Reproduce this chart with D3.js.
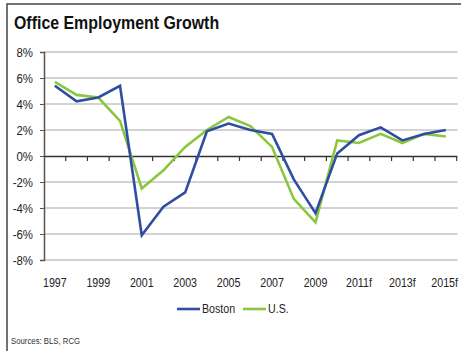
<!DOCTYPE html>
<html>
<head>
<meta charset="utf-8">
<script src="https://cdn.jsdelivr.net/npm/d3@7"></script>
<style>
  html, body { margin: 0; padding: 0; background: #fff; }
  svg { display: block; }
  text { font-family: "Liberation Sans", Arial, sans-serif; fill: #222; }
</style>
</head>
<body>
<svg id="chart" width="461" height="351"></svg>
<script>
// Years on the category axis ("f" = forecast)
const years = ["1997","1998","1999","2000","2001","2002","2003","2004","2005","2006",
               "2007","2008","2009","2010","2011f","2012f","2013f","2014f","2015f"];
// Annual office employment growth, percent
const boston = [5.4, 4.2, 4.5, 5.4, -6.1, -3.9, -2.8, 1.9, 2.5, 2.0,
                1.7, -1.8, -4.4, 0.2, 1.6, 2.2, 1.2, 1.7, 2.0];
const us     = [5.7, 4.7, 4.5, 2.7, -2.5, -1.1, 0.7, 2.0, 3.0, 2.3,
                0.7, -3.3, -5.1, 1.2, 1.0, 1.7, 1.0, 1.7, 1.5];
const yTicks = [8, 6, 4, 2, 0, -2, -4, -6, -8];
const xLabelYears = ["1997","1999","2001","2003","2005","2007","2009","2011f","2013f","2015f"];

const svg = d3.select("#chart");
const W = 461;
const plotLeft = 44, plotRight = 456.7, plotTop = 52, plotBottom = 260;

const x = d3.scaleBand().domain(years).range([plotLeft, plotRight]).paddingInner(0).paddingOuter(0);
const y = d3.scaleLinear().domain([-8, 8]).range([plotBottom, plotTop]);

// Frame
svg.append("path")
  .attr("d", `M7,351 V4 H${W}`)
  .attr("fill", "none").attr("stroke", "#444").attr("stroke-width", 1.5);

// Title
svg.append("text").attr("x", 14).attr("y", 29)
  .attr("font-size", 17.5).attr("font-weight", "bold")
  .attr("class", "narrow").attr("data-squeeze", 0.91)
  .style("fill", "#111")
  .text("Office Employment Growth");

// Gridlines
svg.append("g").selectAll("line").data(yTicks.filter(d => d !== 0)).join("line")
  .attr("x1", plotLeft).attr("x2", plotRight + 1)
  .attr("y1", d => y(d)).attr("y2", d => y(d))
  .attr("stroke", "#a6a6a6").attr("stroke-width", 1);

// Y axis
const yAxis = svg.append("g").attr("transform", `translate(${plotLeft},0)`)
  .call(d3.axisLeft(y).tickValues(yTicks).tickSize(4).tickPadding(7).tickFormat(d => d + "%"));
yAxis.select(".domain").attr("stroke", "#555").attr("stroke-width", 1.5);
yAxis.selectAll(".tick line").attr("stroke", "#555");
yAxis.selectAll(".tick text").attr("font-size", 13).attr("font-family", null)
  .attr("class", "narrow").attr("data-squeeze", 0.88).style("fill", "#222");

// Zero line with category ticks
const xAxis = svg.append("g").attr("transform", `translate(0,${y(0)})`)
  .call(d3.axisBottom(x).tickSize(0).tickFormat(""));
xAxis.select(".domain").attr("stroke", "#333").attr("stroke-width", 1.5);
xAxis.selectAll(".tick").remove();
svg.append("g").selectAll("line").data(years).join("line")
  .attr("x1", d => x(d) + x.bandwidth())
  .attr("x2", d => x(d) + x.bandwidth())
  .attr("y1", y(0)).attr("y2", y(0) + 5)
  .attr("stroke", "#333").attr("stroke-width", 1.2);

// Category labels under the plot
const xLabels = svg.append("g").selectAll("text").data(xLabelYears).join("text")
  .attr("x", d => x(d) + x.bandwidth() / 2)
  .attr("y", 287)
  .attr("text-anchor", "middle")
  .attr("font-size", 13)
  .attr("class", "narrow")
  .text(d => d);

// Keep the last category label inside the right edge (narrow width = 0.82 of natural)
xLabels.filter((d, i, n) => i === n.length - 1).each(function () {
  const half = this.getComputedTextLength() * 0.82 / 2;
  const cx = +this.getAttribute("x");
  if (cx + half > W - 3) d3.select(this).attr("x", W - 3 - half);
});

// Series lines
const line = d3.line()
  .x((d, i) => x(years[i]) + x.bandwidth() / 2)
  .y(d => y(d));

svg.append("path").datum(us)
  .attr("d", line).attr("fill", "none")
  .attr("stroke", "#8cc63e").attr("stroke-width", 2.6).attr("stroke-linejoin", "miter");
svg.append("path").datum(boston)
  .attr("d", line).attr("fill", "none")
  .attr("stroke", "#2f4ea1").attr("stroke-width", 2.6).attr("stroke-linejoin", "miter");

// Legend
const legend = [
  { name: "Boston", color: "#2f4ea1", x0: 177 },
  { name: "U.S.", color: "#8cc63e", x0: 243 }
];
const lg = svg.append("g").selectAll("g").data(legend).join("g");
lg.append("line")
  .attr("x1", d => d.x0).attr("x2", d => d.x0 + 23)
  .attr("y1", 309).attr("y2", 309)
  .attr("stroke", d => d.color).attr("stroke-width", 2.6);
lg.append("text")
  .attr("x", d => d.x0 + 25).attr("y", 313.5)
  .attr("font-size", 13)
  .attr("class", "narrow")
  .text(d => d.name);

// Source note
svg.append("text").attr("x", 11).attr("y", 344)
  .attr("font-size", 9.5).style("fill", "#333")
  .attr("class", "narrow")
  .text("Sources: BLS, RCG");

// Condense the typeface horizontally around each text's anchor point
svg.selectAll("text.narrow").each(function () {
  const k = +(this.getAttribute("data-squeeze") || 0.82);
  const ax = +(this.getAttribute("x") || 0);
  d3.select(this).attr("transform", `translate(${ax},0) scale(${k},1) translate(${-ax},0)`);
});
</script>
</body>
</html>
